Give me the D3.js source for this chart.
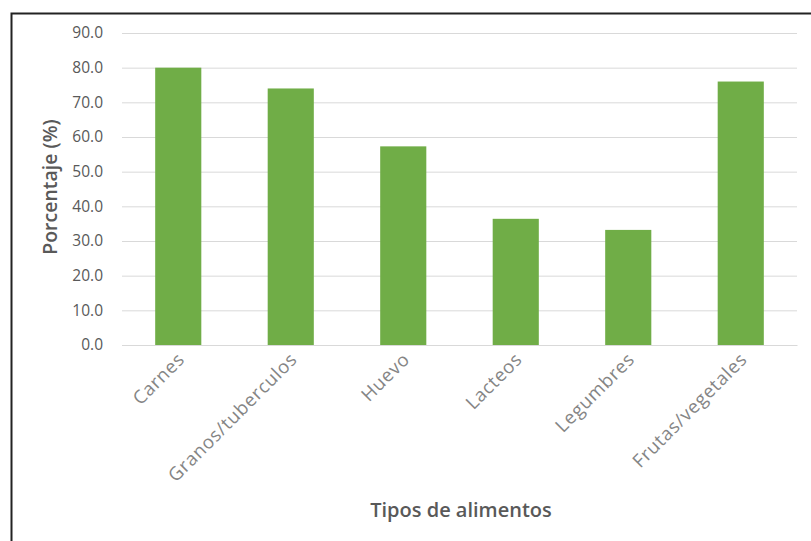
<!DOCTYPE html>
<html>
<head>
<meta charset="utf-8">
<script src="https://cdn.jsdelivr.net/npm/d3@7"></script>
<style>
  html, body { margin: 0; padding: 0; background: #fff; }
  svg { display: block; }
</style>
</head>
<body>
<script>
const categories = ["Carnes", "Granos/tuberculos", "Huevo", "Lacteos", "Legumbres", "Frutas/vegetales"];
const values = [80.0, 74.0, 57.3, 36.4, 33.2, 76.0];
const yTicks = [0, 10, 20, 30, 40, 50, 60, 70, 80, 90];
const yTitle = "Porcentaje (%)";
const xTitle = "Tipos de alimentos";

const W = 811, H = 541;
const m = { left: 122, right: 14, top: 33, bottom: 196 };
const font = "'Open Sans', sans-serif";
const txt = "#595959";

const svg = d3.select("body").append("svg").attr("width", W).attr("height", H);
svg.append("rect").attr("width", W).attr("height", H).attr("fill", "#fff");
// chart frame (right/bottom off-image)
svg.append("rect").attr("x", 11.5).attr("y", 13.5).attr("width", W + 10).attr("height", H + 10)
  .attr("fill", "none").attr("stroke", "#222").attr("stroke-width", 2);

const x = d3.scaleBand().domain(categories).range([m.left, W - m.right]).paddingInner(0.59).paddingOuter(0.295);
const y = d3.scaleLinear().domain([0, 90]).range([H - m.bottom, m.top]);

// gridlines
svg.append("g").selectAll("line").data(yTicks).join("line")
  .attr("x1", m.left).attr("x2", W - m.right)
  .attr("y1", d => y(d) + 0.5).attr("y2", d => y(d) + 0.5)
  .attr("stroke", "#d9d9d9").attr("stroke-width", 1);

// bars
svg.append("g").selectAll("rect").data(values).join("rect")
  .attr("x", (d, i) => x(categories[i]))
  .attr("width", x.bandwidth())
  .attr("y", d => y(d))
  .attr("height", d => y(0) - y(d))
  .attr("fill", "#70ad47");

// y axis
const ya = svg.append("g").attr("transform", `translate(${m.left},0)`)
  .call(d3.axisLeft(y).tickValues(yTicks).tickFormat(d3.format(".1f")).tickSize(0).tickPadding(19));
ya.select(".domain").remove();
ya.selectAll("text").attr("font-family", font).attr("font-size", 15.5).attr("fill", txt);

// x axis
const xa = svg.append("g").attr("transform", `translate(0,${y(0)})`)
  .call(d3.axisBottom(x).tickSize(0));
xa.select(".domain").attr("stroke", "#d9d9d9");
xa.selectAll("text")
  .attr("font-family", font).attr("font-size", 18.5).attr("letter-spacing", 0.7).attr("fill", "#858585")
  .attr("text-anchor", "end")
  .attr("transform", "translate(3,11) rotate(-45)")
  .attr("dy", "0.35em").attr("y", 0).attr("x", 0);

// titles
svg.append("text").attr("transform", `translate(50,${(y(0) + y(90)) / 2 - 2}) rotate(-90)`)
  .attr("text-anchor", "middle").attr("dy", "0.35em")
  .attr("font-family", font).attr("font-size", 19.5).attr("font-weight", 600).attr("fill", txt)
  .text(yTitle);
svg.append("text").attr("x", 461).attr("y", 510)
  .attr("text-anchor", "middle").attr("dy", "0.35em")
  .attr("font-family", font).attr("font-size", 20).attr("font-weight", 600).attr("fill", txt)
  .text(xTitle);
</script>
</body>
</html>
